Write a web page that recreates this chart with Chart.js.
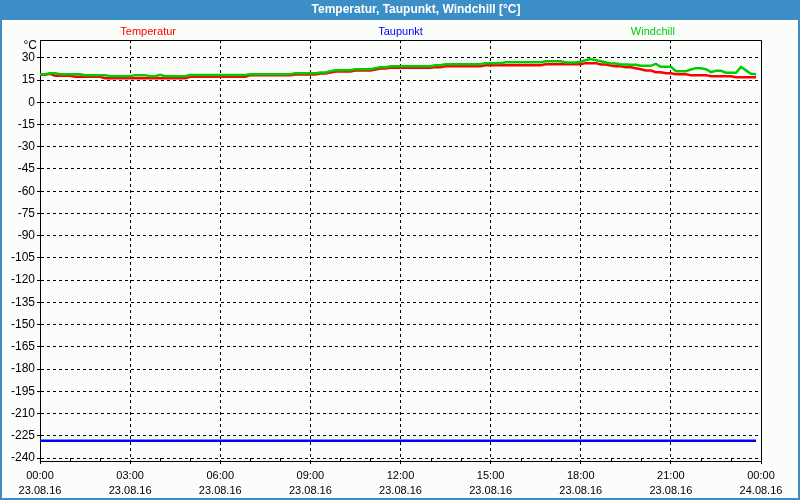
<!DOCTYPE html>
<html>
<head>
<meta charset="utf-8">
<title>Temperatur, Taupunkt, Windchill</title>
<script src="https://cdn.jsdelivr.net/npm/chart.js"></script>
<style>
body { margin: 0; background: #fbfdfb; }
canvas { display: block; }
</style>
</head>
<body>
<canvas id="myChart" width="800" height="500"></canvas>
<script>
var chartTitle = 'Temperatur, Taupunkt, Windchill [°C]';
var unitLabel = '°C';
var seriesNames = ['Temperatur', 'Taupunkt', 'Windchill'];
var seriesColors = ['#ff0000', '#0000ff', '#00cc00'];
var hourLabels = ['00:00', '03:00', '06:00', '09:00', '12:00', '15:00', '18:00', '21:00', '00:00'];
var dateLabels = ['23.08.16', '23.08.16', '23.08.16', '23.08.16', '23.08.16', '23.08.16', '23.08.16', '23.08.16', '24.08.16'];
var sampleMinutes = 10; // one reading every 10 minutes, starting 00:00

var temperatur = [
    18.5, 18.5, 19.2, 17.9, 17.9, 17.9, 17.9, 17.2, 17.2, 17.2, 17.2, 17.2,
    17.2, 16.2, 16.2, 16.2, 16.2, 16.2, 16.2, 16.2, 16.2, 16.2, 16.2, 16.2,
    16.2, 16.2, 16.2, 16.2, 16.2, 16.2, 17.2, 17.2, 17.2, 17.2, 17.2, 17.2,
    17.2, 17.2, 17.2, 17.2, 17.2, 17.2, 18.3, 18.3, 18.3, 18.3, 18.3, 18.3,
    18.3, 18.3, 18.3, 18.7, 18.7, 18.7, 18.7, 18.7, 19.4, 19.4, 20.1, 20.8,
    20.8, 20.8, 20.8, 21.4, 21.4, 21.4, 21.4, 22.1, 22.8, 22.8, 23.2, 23.2,
    23.2, 23.2, 23.2, 23.2, 23.2, 23.2, 23.2, 23.7, 23.7, 24.3, 24.3, 24.3,
    24.3, 24.3, 24.3, 24.3, 24.3, 25.0, 25.0, 25.0, 25.0, 25.0, 25.0, 25.0,
    25.0, 25.0, 25.0, 25.0, 25.0, 25.6, 25.6, 25.6, 25.6, 25.6, 25.6, 25.6,
    25.6, 26.4, 26.4, 26.4, 25.5, 25.5, 24.8, 24.3, 24.3, 23.6, 23.6, 23.0,
    22.3, 21.4, 21.4, 20.3, 20.3, 19.6, 19.6, 18.9, 18.9, 18.9, 18.3, 18.3,
    18.3, 18.3, 17.6, 17.6, 17.6, 17.6, 17.6, 16.9, 16.9, 16.9, 16.9, 16.9
];

var taupunkt = [
    -228.3, -228.3, -228.3, -228.3, -228.3, -228.3, -228.3, -228.3, -228.3, -228.3, -228.3, -228.3,
    -228.3, -228.3, -228.3, -228.3, -228.3, -228.3, -228.3, -228.3, -228.3, -228.3, -228.3, -228.3,
    -228.3, -228.3, -228.3, -228.3, -228.3, -228.3, -228.3, -228.3, -228.3, -228.3, -228.3, -228.3,
    -228.3, -228.3, -228.3, -228.3, -228.3, -228.3, -228.3, -228.3, -228.3, -228.3, -228.3, -228.3,
    -228.3, -228.3, -228.3, -228.3, -228.3, -228.3, -228.3, -228.3, -228.3, -228.3, -228.3, -228.3,
    -228.3, -228.3, -228.3, -228.3, -228.3, -228.3, -228.3, -228.3, -228.3, -228.3, -228.3, -228.3,
    -228.3, -228.3, -228.3, -228.3, -228.3, -228.3, -228.3, -228.3, -228.3, -228.3, -228.3, -228.3,
    -228.3, -228.3, -228.3, -228.3, -228.3, -228.3, -228.3, -228.3, -228.3, -228.3, -228.3, -228.3,
    -228.3, -228.3, -228.3, -228.3, -228.3, -228.3, -228.3, -228.3, -228.3, -228.3, -228.3, -228.3,
    -228.3, -228.3, -228.3, -228.3, -228.3, -228.3, -228.3, -228.3, -228.3, -228.3, -228.3, -228.3,
    -228.3, -228.3, -228.3, -228.3, -228.3, -228.3, -228.3, -228.3, -228.3, -228.3, -228.3, -228.3,
    -228.3, -228.3, -228.3, -228.3, -228.3, -228.3, -228.3, -228.3, -228.3, -228.3, -228.3, -228.3
];

var windchill = [
    18.9, 18.9, 19.6, 19.6, 18.9, 18.9, 18.9, 18.9, 18.9, 18.3, 18.3, 18.3,
    18.3, 18.3, 17.6, 17.6, 17.6, 17.6, 17.6, 18.3, 18.3, 18.3, 17.6, 17.6,
    18.5, 17.6, 17.6, 17.6, 17.6, 17.6, 18.4, 18.4, 18.4, 18.4, 18.4, 18.4,
    18.4, 18.4, 18.4, 18.4, 18.4, 18.4, 18.9, 18.9, 18.9, 18.9, 18.9, 18.9,
    18.9, 18.9, 18.9, 19.6, 19.6, 19.6, 19.6, 19.6, 20.1, 20.1, 21.0, 21.6,
    21.6, 21.6, 21.6, 22.3, 22.3, 22.3, 22.3, 23.0, 23.7, 23.7, 24.3, 24.3,
    24.3, 24.3, 24.3, 24.3, 24.3, 24.3, 24.3, 25.0, 25.0, 25.7, 25.7, 25.7,
    25.7, 25.7, 25.7, 25.7, 25.7, 26.4, 26.4, 26.4, 26.4, 27.0, 27.0, 27.0,
    27.0, 27.0, 27.0, 27.0, 27.0, 27.7, 27.7, 27.7, 27.7, 26.8, 26.8, 26.8,
    27.3, 28.4, 29.1, 28.4, 27.7, 26.8, 26.1, 26.1, 25.5, 25.5, 25.3, 25.3,
    24.6, 24.6, 24.6, 25.9, 23.9, 23.9, 23.9, 21.0, 21.0, 21.0, 22.1, 23.0,
    23.0, 22.3, 20.3, 21.2, 21.2, 19.9, 19.9, 19.9, 23.9, 21.5, 19.2, 18.9
];

function toPoints(values) {
    return values.map(function(v, i) { return {x: i * sampleMinutes, y: v}; });
}

// title bar, blue frame, plot box, legend texts and minor hour ticks
var framePlugin = {
    id: 'frame',
    beforeDraw: function(chart) {
        var ctx = chart.ctx, w = chart.width, h = chart.height;
        ctx.save();
        ctx.fillStyle = '#fbfdfb';
        ctx.fillRect(0, 0, w, h);
        ctx.fillStyle = '#3c8fc6';
        ctx.fillRect(0, 0, w, 20);
        ctx.fillStyle = '#ffffff';
        ctx.font = 'bold 12px "Liberation Sans", Arial, sans-serif';
        ctx.textAlign = 'center';
        ctx.textBaseline = 'middle';
        ctx.fillText(chartTitle, 416, 10);
        ctx.restore();
    },
    afterDraw: function(chart) {
        var ctx = chart.ctx, a = chart.chartArea, w = chart.width, h = chart.height;
        var xs = chart.scales.x;
        ctx.save();
        ctx.strokeStyle = '#000';
        ctx.lineWidth = 1;
        ctx.beginPath();
        ctx.moveTo(a.left, a.top + 0.5);
        ctx.lineTo(a.right + 0.5, a.top + 0.5);
        ctx.lineTo(a.right + 0.5, a.bottom);
        ctx.stroke();

        // small hour ticks inside the plot
        ctx.beginPath();
        for (var m = 60; m < 1440; m += 60) {
            if (m % 180 === 0) continue;
            var px = Math.round(xs.getPixelForValue(m)) + 0.5;
            ctx.moveTo(px, a.bottom - 3);
            ctx.lineTo(px, a.bottom);
        }
        ctx.stroke();

        ctx.font = '11px "Liberation Sans", Arial, sans-serif';
        ctx.textAlign = 'center';
        ctx.textBaseline = 'middle';
        var fracs = [0.15, 0.5, 0.85];
        chart.data.datasets.forEach(function(ds, i) {
            ctx.fillStyle = ds.borderColor;
            ctx.fillText(ds.label, a.left + fracs[i] * (a.right - a.left), 32);
        });

        ctx.fillStyle = '#000';
        ctx.textAlign = 'right';
        ctx.font = '12px "Liberation Sans", Arial, sans-serif';
        ctx.fillText(unitLabel, 37, 46);

        ctx.fillStyle = '#3c8fc6';
        ctx.fillRect(0, 0, 2, h);
        ctx.fillRect(w - 2, 0, 2, h);
        ctx.fillRect(0, h - 2, w, 2);
        ctx.restore();
    }
};

Chart.defaults.font.family = '"Liberation Sans", Arial, sans-serif';
Chart.defaults.font.size = 11;
Chart.defaults.color = '#000';

var ctx = document.getElementById('myChart').getContext('2d');
new Chart(ctx, {
    type: 'line',
    data: {
        datasets: [
            {label: seriesNames[0], data: toPoints(temperatur), borderColor: seriesColors[0], borderWidth: 2.5, pointRadius: 0, tension: 0, order: 2},
            {label: seriesNames[1], data: toPoints(taupunkt), borderColor: seriesColors[1], borderWidth: 2.5, pointRadius: 0, tension: 0, order: 3},
            {label: seriesNames[2], data: toPoints(windchill), borderColor: seriesColors[2], borderWidth: 2.5, pointRadius: 0, tension: 0, order: 1}
        ]
    },
    options: {
        responsive: false,
        animation: false,
        layout: {padding: {left: 2, top: 40, right: 39, bottom: 2}},
        plugins: {
            legend: {display: false},
            title: {display: false},
            tooltip: {enabled: false}
        },
        scales: {
            x: {
                type: 'linear',
                min: 0,
                max: 1440,
                afterFit: function(s) { s.height = 37; },
                ticks: {
                    stepSize: 60,
                    includeBounds: false,
                    autoSkip: false,
                    maxRotation: 0,
                    padding: 5,
                    font: {size: 11, lineHeight: 1.35},
                    callback: function(v) {
                        if (v % 180 !== 0) return '';
                        var k = v / 180;
                        return [hourLabels[k], dateLabels[k]];
                    }
                },
                grid: {
                    color: function(c) {
                        var v = c.tick ? c.tick.value : 0;
                        return (v % 180 === 0 && v > 0 && v < 1440) ? '#000' : 'rgba(0,0,0,0)';
                    },
                    tickColor: function(c) {
                        var v = c.tick ? c.tick.value : 1;
                        return v % 180 === 0 ? '#000' : 'rgba(0,0,0,0)';
                    },
                    tickLength: 3,
                    lineWidth: 1
                },
                border: {color: '#000', width: 1, dash: [3, 3]}
            },
            y: {
                min: -242,
                max: 42,
                afterFit: function(s) { s.width = 38; },
                ticks: {stepSize: 15, includeBounds: false, padding: 2, font: {size: 12}},
                grid: {color: '#000', tickColor: '#000', tickLength: 3, lineWidth: 1},
                border: {color: '#000', width: 1, dash: [3, 3]}
            }
        }
    },
    plugins: [framePlugin]
});
</script>
</body>
</html>
